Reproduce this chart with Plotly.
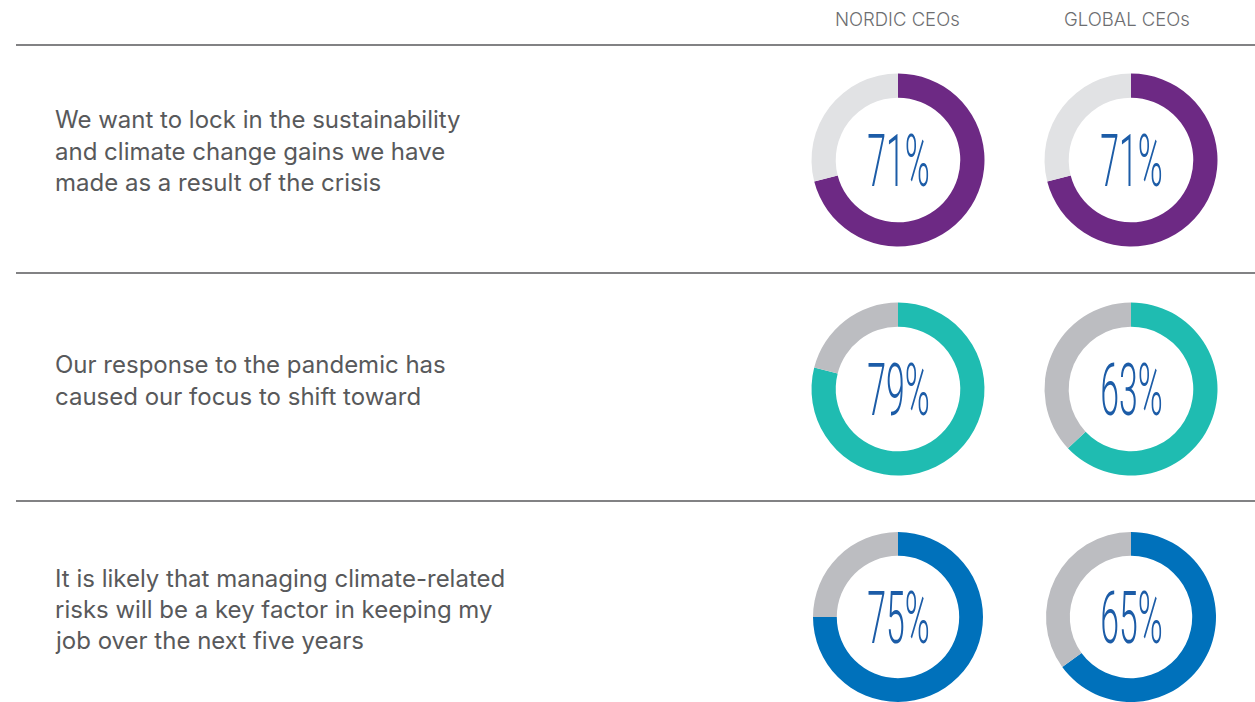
import plotly.graph_objects as go

# ---- data ----
groups = ["NORDIC CEOs", "GLOBAL CEOs"]
statements = [
    ["We want to lock in the sustainability",
     "and climate change gains we have",
     "made as a result of the crisis"],
    ["Our response to the pandemic has",
     "caused our focus to shift toward"],
    ["It is likely that managing climate-related",
     "risks will be a key factor in keeping my",
     "job over the next five years"],
]
nordic = [71, 79, 75]
global_ceos = [71, 63, 65]

# ---- style ----
W, H = 1255, 702
main_colors = ["#6d2984", "#1fbcb1", "#0071bb"]
rest_colors = ["#e1e2e4", "#bcbdc1", "#bcbdc1"]
pct_color = "#1c5ca7"
text_color = "#58595b"
col_x = [898, 1131]
row_y = [160, 389, 617]
radius = 86.5
hole = 0.72
row_lines = [45, 273, 501]
stmt_centers = [[119, 151, 183], [364, 396], [578, 609, 640]]


def px(x):
    return x / W


def py(y):
    return 1 - y / H


fig = go.Figure()
annotations = []
shapes = []

for r in range(3):
    vals_pair = [nordic[r], global_ceos[r]]
    for c in range(2):
        v = vals_pair[c]
        cx, cy = col_x[c], row_y[r]
        rr = min(radius, H - cy, cy)
        fig.add_trace(go.Pie(
            values=[v, 100 - v],
            labels=["Agree", "Other"],
            marker=dict(colors=[main_colors[r], rest_colors[r]], line=dict(width=0)),
            hole=hole,
            sort=False,
            direction="clockwise",
            rotation=0,
            textinfo="none",
            hoverinfo="skip",
            showlegend=False,
            domain=dict(x=[px(cx - rr), px(cx + rr)], y=[py(cy + rr), py(cy - rr)]),
        ))
        annotations.append(dict(
            x=px(cx), y=py(cy + 1), xref="paper", yref="paper",
            text=f"{v}%", showarrow=False, xanchor="center", yanchor="middle",
            font=dict(family="Roboto, Inter, sans-serif", size=72, color=pct_color, weight=300),
        ))
    for i, line in enumerate(statements[r]):
        annotations.append(dict(
            x=px(53), y=py(stmt_centers[r][i]), xref="paper", yref="paper",
            text=line, showarrow=False, xanchor="left", yanchor="middle",
            font=dict(family="Inter, Roboto, sans-serif", size=24, color=text_color),
        ))
    shapes.append(dict(type="line", xref="paper", yref="paper",
                       x0=px(16), x1=1, y0=py(row_lines[r]), y1=py(row_lines[r]),
                       line=dict(color="#58595b", width=1.3)))

header_x = [897.5, 1126.5]
for c in range(2):
    annotations.append(dict(
        x=px(header_x[c]), y=py(19), xref="paper", yref="paper",
        text=groups[c], showarrow=False, xanchor="center", yanchor="middle",
        font=dict(family="Inter, Roboto, sans-serif", size=18.5, color="#6d6e71", weight=300),
    ))

fig.update_layout(
    width=W, height=H,
    margin=dict(l=0, r=0, t=0, b=0),
    paper_bgcolor="white", plot_bgcolor="white",
    annotations=annotations, shapes=shapes,
)

post = """
document.body.style.margin = '0';
document.body.style.padding = '0';
var gd = document.getElementById('{plot_id}');
function squeeze(){
  gd.querySelectorAll('.annotation-text').forEach(function(t){
    if (t.textContent.indexOf('%') >= 0) {
      t.style.transformBox = 'fill-box';
      t.style.transformOrigin = 'center';
      t.style.transform = 'scaleX(0.47)';
    }
  });
}
squeeze();
gd.on('plotly_afterplot', squeeze);
"""

fig.write_html("out.html", post_script=post, config={"displayModeBar": False})
